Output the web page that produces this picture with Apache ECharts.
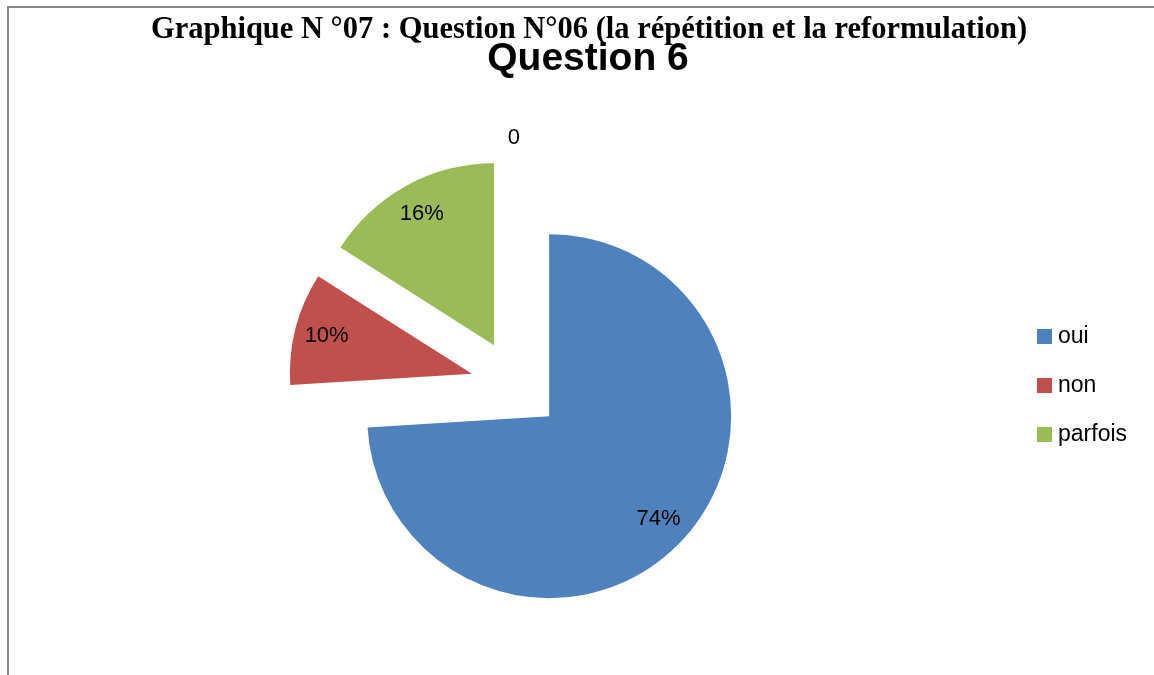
<!DOCTYPE html>
<html><head><meta charset="utf-8">
<script src="https://cdn.jsdelivr.net/npm/echarts@6/dist/echarts.min.js"></script>
<style>html,body{margin:0;padding:0;background:#fff}#c{width:1154px;height:675px}</style>
</head><body><div id="c"></div>
<script>
const categories = ['oui', 'non', 'parfois', ''];
const values = [74, 10, 16, 0];
const labels = ['74%', '10%', '16%', '0'];
const colors = ['#4F81BD', '#C0504D', '#9BBB59', '#FFFFFF'];
const legendNames = ['oui', 'non', 'parfois'];

const chart = echarts.init(document.getElementById('c'));
const pieData = categories.map((n, i) => ({
  name: n, value: values[i], selected: true,
  itemStyle: { color: colors[i] }
}));
const labelData = categories.map((n, i) => ({
  name: n, value: values[i], selected: true,
  label: values[i] === 0
    ? { position: 'outside', formatter: labels[i], distanceToLabelLine: -4 }
    : { position: 'inside', formatter: labels[i] },
  labelLine: { show: false, length: 20, length2: 0 }
}));
chart.setOption({
  animation: false,
  title: [
    { text: 'Graphique N °07 : Question N°06 (la répétition et la reformulation)', left: 584, top: 10, textAlign: 'center',
      textStyle: { fontFamily: 'Liberation Serif', fontWeight: 'bold', fontSize: 30.5, color: '#000' } },
    { text: 'Question 6', left: 583, top: 35, textAlign: 'center',
      textStyle: { fontFamily: 'Liberation Sans', fontWeight: 'bold', fontSize: 39, color: '#000' } }
  ],
  legend: {
    data: legendNames, orient: 'vertical', left: 1037, top: 325, padding: 0,
    icon: 'rect', itemWidth: 15, itemHeight: 15, itemGap: 26, selectedMode: false,
    textStyle: { fontFamily: 'Liberation Sans', fontSize: 23, color: '#000', lineHeight: 23, padding: [0, 0, 0, 1] }
  },
  graphic: [
    { type: 'polyline', shape: { points: [[8, 675], [8, 7], [1154, 7]] },
      style: { stroke: '#888', lineWidth: 2, fill: null }, silent: true }
  ],
  series: [
    { type: 'pie', center: [516, 385], radius: 182, startAngle: 90, clockwise: true,
      selectedMode: 'multiple', selectedOffset: 45.5, silent: true,
      stillShowZeroSum: true, avoidLabelOverlap: false,
      emphasis: { disabled: true, scale: false },
      label: { show: false }, labelLine: { show: false },
      data: pieData },
    { type: 'pie', center: [516, 385], radius: [112, 182], startAngle: 90, clockwise: true,
      selectedMode: 'multiple', selectedOffset: 45.5, silent: true, avoidLabelOverlap: false,
      emphasis: { disabled: true, scale: false },
      itemStyle: { color: 'rgba(0,0,0,0)' },
      select: { itemStyle: { color: 'rgba(0,0,0,0)' } },
      label: { show: true, color: '#000', fontFamily: 'Liberation Sans', fontSize: 22 },
      data: labelData }
  ]
});
</script></body></html>
